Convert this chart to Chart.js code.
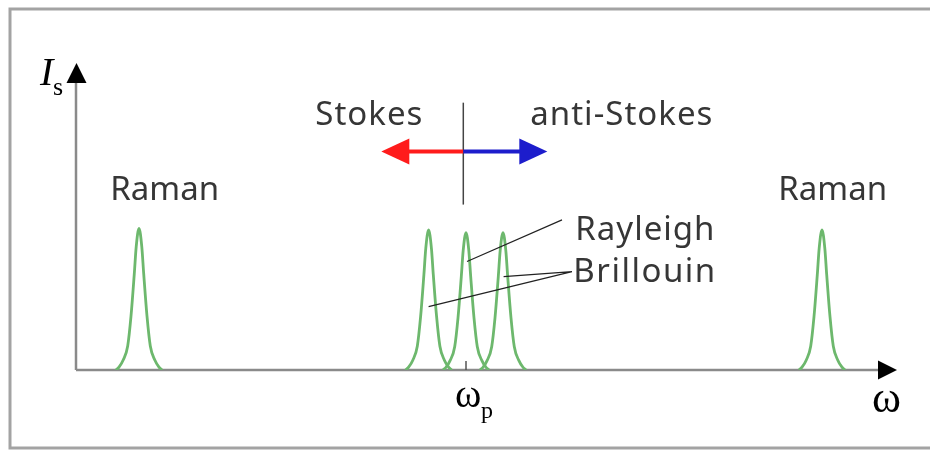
<!DOCTYPE html>
<html>
<head>
<meta charset="utf-8">
<script src="https://cdn.jsdelivr.net/npm/chart.js@4.4.1/dist/chart.umd.min.js"></script>
<style>
  html, body { margin: 0; padding: 0; background: #fff; }
  #wrap { width: 930px; height: 450px; position: relative; }
</style>
</head>
<body>
<div id="wrap"><canvas id="spectrum"></canvas></div>
<script>
// peak centres, in (ω - ωp) arbitrary units, and peak heights
const peakNames = ['Raman (Stokes)', 'Brillouin (Stokes)', 'Rayleigh', 'Brillouin (anti-Stokes)', 'Raman (anti-Stokes)'];
const peakCentres = [-32.7, -3.74, 0, 3.70, 35.6];
const peakHeights = [1.01, 1.0, 0.98, 0.98, 1.0];
const lineOffsets = [-2.3, -2.0, -1.58, -1.13, -0.8, -0.47, -0.28, 0, 0.28, 0.47, 0.8, 1.13, 1.58, 2.0, 2.3];
const lineShape = [0, 0.02, 0.07, 0.17, 0.38, 0.68, 0.87, 1, 0.87, 0.68, 0.38, 0.17, 0.07, 0.02, 0];

const SANS = '"Noto Sans", sans-serif';
const SERIF = '"Liberation Serif", serif';

const Decor = {
    id: 'decor',

    beforeDatasetsDraw(chart) {
        const ctx = chart.ctx, a = chart.chartArea;
        const x = chart.scales.x;
        ctx.save();
        // frame
        ctx.strokeStyle = '#a3a3a3';
        ctx.lineWidth = 3;
        ctx.strokeRect(10, 9, 940, 439);
        // axes
        ctx.strokeStyle = '#8a8a8a';
        ctx.lineWidth = 2.5;
        ctx.beginPath();
        ctx.moveTo(a.left, a.bottom);
        ctx.lineTo(a.right - 15, a.bottom);
        ctx.moveTo(a.left, a.bottom);
        ctx.lineTo(a.left, a.top + 15);
        ctx.stroke();
        // tick at ωp
        ctx.strokeStyle = '#555';
        ctx.lineWidth = 1.5;
        ctx.beginPath();
        ctx.moveTo(x.getPixelForValue(0), a.bottom);
        ctx.lineTo(x.getPixelForValue(0), a.bottom - 9);
        ctx.stroke();
        ctx.restore();
    },

    afterDatasetsDraw(chart) {
        const ctx = chart.ctx, a = chart.chartArea;
        const X = v => chart.scales.x.getPixelForValue(v);
        const Y = v => chart.scales.y.getPixelForValue(v);
        ctx.save();

        // arrow heads of the axes
        ctx.fillStyle = '#000';
        ctx.beginPath();
        ctx.moveTo(a.left + 0.5, a.top);
        ctx.lineTo(a.left - 9.5, a.top + 20);
        ctx.lineTo(a.left + 10.5, a.top + 20);
        ctx.closePath();
        ctx.fill();
        ctx.beginPath();
        ctx.moveTo(a.right, a.bottom);
        ctx.lineTo(a.right - 19, a.bottom - 9.5);
        ctx.lineTo(a.right - 19, a.bottom + 9.5);
        ctx.closePath();
        ctx.fill();

        // Stokes / anti-Stokes divider and arrows
        const xm = X(-0.27), ya = Y(1.559);
        ctx.strokeStyle = '#444';
        ctx.lineWidth = 1.5;
        ctx.beginPath();
        ctx.moveTo(xm, Y(1.907));
        ctx.lineTo(xm, Y(1.18));
        ctx.stroke();
        const arrow = (x0, x1, color) => {
            const dir = Math.sign(x1 - x0);
            ctx.strokeStyle = color;
            ctx.fillStyle = color;
            ctx.lineWidth = 4;
            ctx.beginPath();
            ctx.moveTo(x0, ya);
            ctx.lineTo(x1 - dir * 25, ya);
            ctx.stroke();
            ctx.beginPath();
            ctx.moveTo(x1, ya);
            ctx.lineTo(x1 - dir * 28, ya - 13);
            ctx.lineTo(x1 - dir * 28, ya + 13);
            ctx.closePath();
            ctx.fill();
        };
        arrow(xm, X(-8.47), '#ff1c1c');
        arrow(xm, X(8.13), '#1d1dcc');

        // leader lines
        ctx.strokeStyle = '#222';
        ctx.lineWidth = 1.2;
        ctx.beginPath();
        ctx.moveTo(X(0.1), Y(0.774));
        ctx.lineTo(X(9.6), Y(1.071));
        ctx.moveTo(X(-3.74), Y(0.452));
        ctx.lineTo(X(10.6), Y(0.702));
        ctx.moveTo(X(3.76), Y(0.666));
        ctx.lineTo(X(10.6), Y(0.702));
        ctx.stroke();

        // labels
        ctx.fillStyle = '#363636';
        ctx.font = '33px ' + SANS;
        ctx.textBaseline = 'alphabetic';
        ctx.textAlign = 'left';
        ctx.fillText('Raman', X(-35.57), Y(1.214));
        ctx.fillText('Raman', X(31.23), Y(1.214));
        ctx.letterSpacing = '1px';
        ctx.fillText('Stokes', X(-15.07), Y(1.75));
        ctx.fillText('anti-Stokes', X(6.43), Y(1.75));
        ctx.fillText('Rayleigh', X(10.93), Y(0.929));
        ctx.letterSpacing = '1.5px';
        ctx.fillText('Brillouin', X(10.73), Y(0.629));
        ctx.letterSpacing = '0px';

        // axis symbols
        ctx.fillStyle = '#000';
        ctx.font = 'italic 40px ' + SERIF;
        ctx.fillText('I', 40, 85);
        ctx.font = '26px ' + SERIF;
        ctx.fillText('s', 53, 95);
        ctx.font = '44px ' + SERIF;
        ctx.fillText('\u03c9', 872, 412);
        ctx.font = '40px ' + SERIF;
        ctx.fillText('\u03c9', 455, 407);
        ctx.font = '24px ' + SERIF;
        ctx.fillText('p', 481, 418);

        ctx.restore();
    }
};

const datasets = peakCentres.map((c, i) => ({
    label: peakNames[i],
    data: lineOffsets.map((d, k) => ({ x: c + d, y: peakHeights[i] * lineShape[k] })),
    borderColor: '#6db86d',
    borderWidth: 2.8,
    pointRadius: 0,
    fill: false,
    cubicInterpolationMode: 'monotone'
}));

new Chart(document.getElementById('spectrum'), {
    type: 'line',
    data: { datasets },
    options: {
        responsive: true,
        maintainAspectRatio: false,
        animation: false,
        layout: { padding: { left: 76, top: 63, right: 33, bottom: 80 } },
        scales: {
            x: { type: 'linear', min: -39, max: 43.1, display: false },
            y: { min: 0, max: 2.19, display: false }
        },
        plugins: { legend: { display: false }, tooltip: { enabled: false } }
    },
    plugins: [Decor]
});
</script>
</body>
</html>
